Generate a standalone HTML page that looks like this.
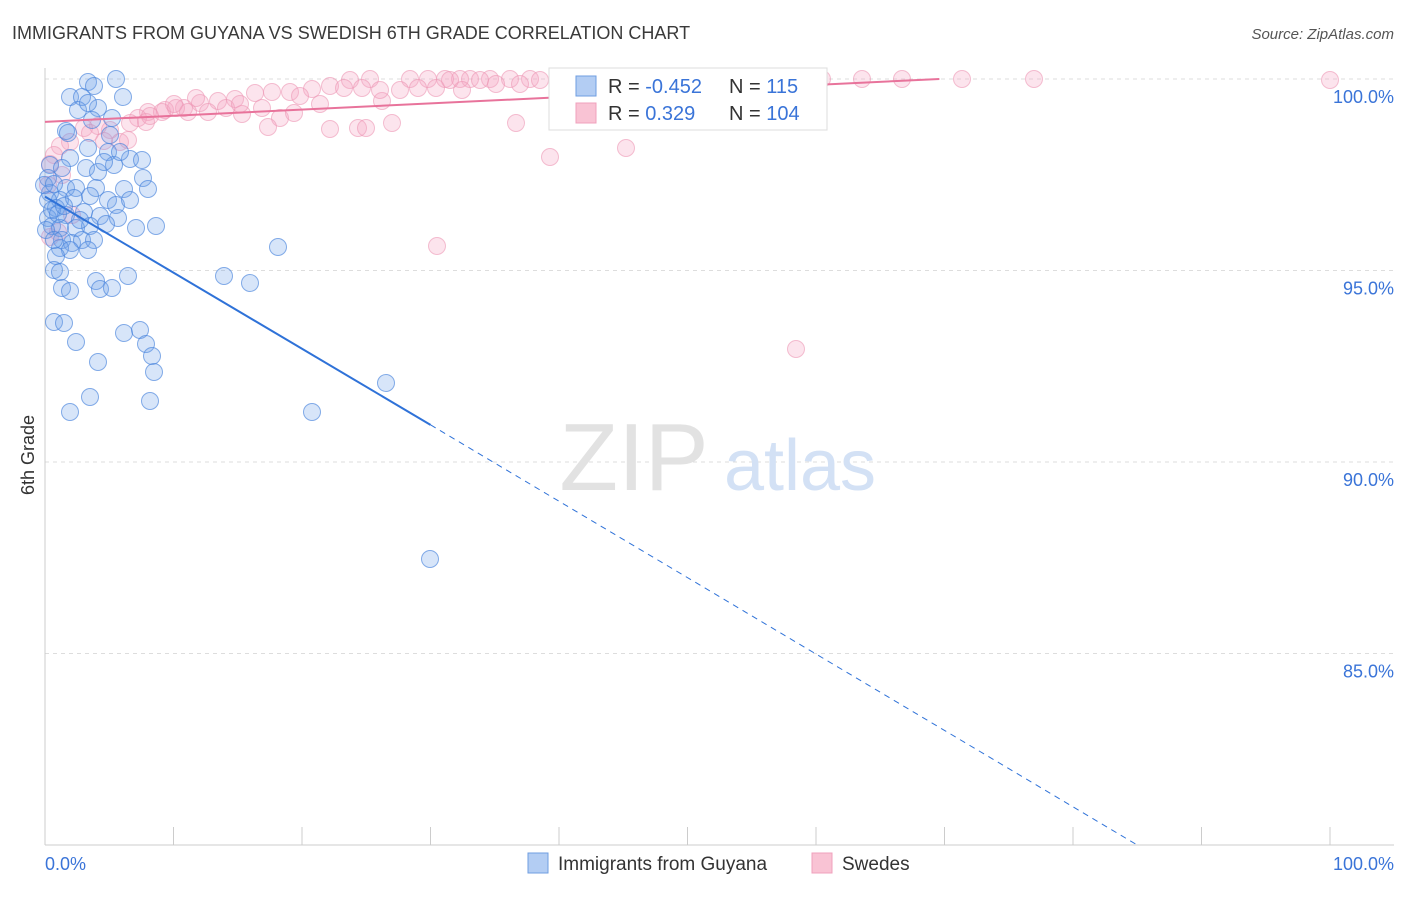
<!DOCTYPE html>
<html><head><meta charset="utf-8"><style>
body{margin:0;background:#fff;font-family:"Liberation Sans",sans-serif;}
svg text{font-family:"Liberation Sans",sans-serif;}
</style></head><body>
<svg id="chart" width="1406" height="892">
<text x="12" y="39" font-size="18" fill="#3a3a3a">IMMIGRANTS FROM GUYANA VS SWEDISH 6TH GRADE CORRELATION CHART</text>
<text x="1394" y="39" font-size="15" fill="#555" font-style="italic" text-anchor="end">Source: ZipAtlas.com</text>
<g id="grid"></g>
<text x="634" y="490" font-size="96" fill="#e2e2e2" font-family="Liberation Serif" text-anchor="middle">ZIP</text>
<text x="800" y="490" font-size="72" fill="#d3e1f5" text-anchor="middle">atlas</text>
<g id="pts"></g>
<g id="lines"></g>
<text x="34" y="455" font-size="18" fill="#333" transform="rotate(-90 34 455)" text-anchor="middle">6th Grade</text>
<text x="45" y="870" font-size="18" fill="#3a74d8">0.0%</text>
<text x="1394" y="870" font-size="18" fill="#3a74d8" text-anchor="end">100.0%</text>
<g>
<rect x="549" y="68" width="278" height="62" fill="#fff" stroke="#ddd"/>
<rect x="576" y="76" width="20" height="20" fill="#b3cdf3" stroke="#6f9ee0"/>
<rect x="576" y="103" width="20" height="20" fill="#f9c3d4" stroke="#f0a0bc"/>
<text x="608" y="93" font-size="20" fill="#333">R = <tspan fill="#3a74d8">-0.452</tspan></text>
<text x="729" y="93" font-size="20" fill="#333">N = <tspan fill="#3a74d8">115</tspan></text>
<text x="608" y="120" font-size="20" fill="#333">R = <tspan fill="#3a74d8"> 0.329</tspan></text>
<text x="729" y="120" font-size="20" fill="#333">N = <tspan fill="#3a74d8">104</tspan></text>
</g>
<g>
<rect x="528" y="853" width="20" height="20" fill="#b3cdf3" stroke="#6f9ee0"/>
<text x="558" y="870" font-size="19" fill="#333">Immigrants from Guyana</text>
<rect x="812" y="853" width="20" height="20" fill="#f9c3d4" stroke="#f0a0bc"/>
<text x="842" y="870" font-size="19" fill="#333">Swedes</text>
</g>
</svg>
<script>
const yTicks=[100,95,90,85];
const yTickLabels=["100.0%","95.0%","90.0%","85.0%"];
const xTicks=[0,10,20,30,40,50,60,70,80,90,100];
const bluePx=[[88,82],[116,79],[94,86],[70,97],[82,97],[123,97],[98,108],[78,110],[88,103],[66,131],[68,133],[110,135],[88,148],[108,152],[130,159],[70,158],[50,165],[62,168],[86,168],[98,172],[114,165],[143,178],[48,178],[66,188],[76,188],[96,188],[124,189],[148,189],[50,193],[60,200],[74,198],[90,196],[108,200],[116,205],[130,200],[56,208],[66,215],[84,212],[100,216],[118,218],[48,218],[52,226],[60,228],[76,228],[90,226],[106,224],[136,228],[156,226],[62,240],[72,243],[82,240],[94,240],[60,248],[70,250],[88,250],[278,247],[56,256],[54,270],[60,272],[96,281],[128,276],[224,276],[250,283],[62,288],[70,291],[100,289],[112,288],[54,322],[64,323],[124,333],[140,330],[76,342],[146,344],[152,356],[98,362],[154,372],[386,383],[90,397],[150,401],[70,412],[312,412],[430,559],[48,200],[52,210],[58,214],[64,206],[80,220],[46,230],[54,240],[104,162],[120,152],[44,185],[54,184],[92,120],[112,118],[142,160]];
const pinkPx=[[1330,80],[1034,79],[962,79],[902,79],[862,79],[822,79],[770,79],[690,79],[650,79],[620,79],[560,79],[530,79],[510,79],[490,79],[470,79],[460,79],[445,79],[428,79],[410,79],[370,79],[350,80],[330,86],[312,89],[290,92],[272,92],[255,93],[235,99],[218,101],[200,103],[184,108],[165,110],[148,112],[138,118],[130,123],[110,130],[98,126],[84,128],[70,142],[60,146],[54,155],[50,164],[62,175],[48,185],[50,237],[120,142],[146,122],[162,112],[176,108],[188,112],[208,112],[226,108],[242,114],[262,108],[280,118],[294,113],[320,104],[344,88],[362,88],[382,101],[400,90],[418,88],[436,88],[462,90],[496,84],[520,84],[572,84],[600,90],[268,127],[330,129],[358,128],[366,128],[392,123],[516,123],[550,157],[626,148],[437,246],[796,349],[58,232],[72,215],[90,133],[104,141],[128,140],[150,116],[174,104],[196,98],[240,104],[300,96],[380,90],[450,80],[480,80],[540,80],[600,79],[660,80],[720,80]];
const blueX=bluePx.map(p=>(p[0]-45)/12.85), blueY=bluePx.map(p=>100-(p[1]-79)/38.3);
const pinkX=pinkPx.map(p=>(p[0]-45)/12.85), pinkY=pinkPx.map(p=>100-(p[1]-79)/38.3);
const blueTrend=[[0,96.93],[30,90.97],[85,80.0]];
const pinkTrend=[[0,98.88],[69.6,100.0]];
const sx=v=>45+v*12.85, sy=v=>79+(100-v)*38.3;
const NS="http://www.w3.org/2000/svg";
function mk(t,a,parent){const e=document.createElementNS(NS,t);for(const k in a)e.setAttribute(k,a[k]);parent.appendChild(e);return e;}
const grid=document.getElementById('grid');
yTicks.forEach((t,i)=>{
 const l=mk('line',{x1:45,x2:1394,y1:sy(t),y2:sy(t),stroke:'#ddd','stroke-dasharray':'4 4'},grid);
 
 
 const tx=mk('text',{x:1394,y:sy(t)+24,'font-size':18,fill:'#3a74d8','text-anchor':'end'},grid);
 tx.textContent=yTickLabels[i];
 
 
});
const ax=mk('line',{x1:45,x2:1394,y1:845,y2:845,stroke:'#ccc'},grid);


const ay=mk('line',{x1:45,x2:45,y1:68,y2:845,stroke:'#ccc'},grid);


xTicks.forEach(t=>{
 const l=mk('line',{x1:sx(t),x2:sx(t),y1:827,y2:845,stroke:'#ccc'},grid);
 
 
});
const pts=document.getElementById('pts');
pinkX.forEach((x,i)=>{
 const c=mk('circle',{cx:sx(x),cy:sy(pinkY[i]),r:8.5,fill:'rgba(245,165,195,0.3)',stroke:'rgba(236,150,180,0.6)','stroke-width':1},pts);
 
 
});
blueX.forEach((x,i)=>{
 const c=mk('circle',{cx:sx(x),cy:sy(blueY[i]),r:8.5,fill:'rgba(110,160,235,0.28)',stroke:'rgba(70,130,220,0.65)','stroke-width':1},pts);
 
 
});
const lines=document.getElementById('lines');
const b1=mk('line',{x1:sx(blueTrend[0][0]),y1:sy(blueTrend[0][1]),x2:sx(blueTrend[1][0]),y2:sy(blueTrend[1][1]),stroke:'#2f72d8','stroke-width':2},lines);


const b2=mk('line',{x1:sx(blueTrend[1][0]),y1:sy(blueTrend[1][1]),x2:sx(blueTrend[2][0]),y2:sy(blueTrend[2][1]),stroke:'#2f72d8','stroke-width':1,'stroke-dasharray':'6 5'},lines);


const p1=mk('line',{x1:sx(pinkTrend[0][0]),y1:sy(pinkTrend[0][1]),x2:sx(pinkTrend[1][0]),y2:sy(pinkTrend[1][1]),stroke:'#e8739b','stroke-width':2},lines);


</script>
</body></html>
